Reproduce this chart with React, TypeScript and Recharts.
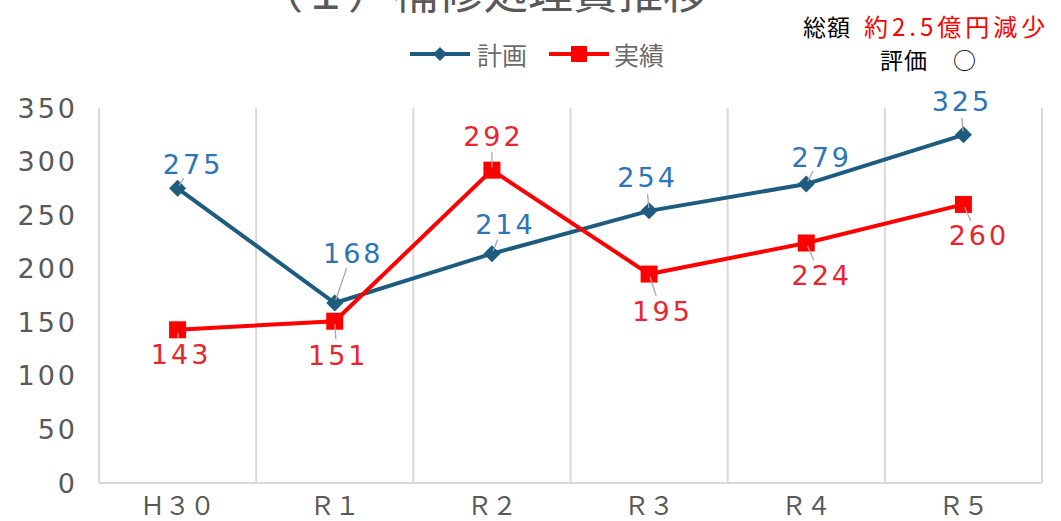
import React from 'react';
import { LineChart, Line, XAxis, YAxis, CartesianGrid, LabelList } from 'recharts';

const categories = ['Ｈ３０', 'Ｒ１', 'Ｒ２', 'Ｒ３', 'Ｒ４', 'Ｒ５'];
const planValues = [275, 168, 214, 254, 279, 325];
const actualValues = [143, 151, 292, 195, 224, 260];
const yTicks = [0, 50, 100, 150, 200, 250, 300, 350];
const seriesNames = { plan: '計画', actual: '実績' };
const titleText = '（１）補修処理費推移';

// label placement (style only): offsets of label centre from its point
const planLabelOffsets = [[14, -24], [17, -50], [12, -29], [-3, -33], [14, -27], [-3, -33]];
const actualLabelOffsets = [[2, 25], [2, 34], [0, -34], [12, 37], [14, 32], [14, 31]];

const PLAN_COLOR = '#1d5c7e';
const PLAN_LABEL = '#2e75b6';
const ACTUAL_COLOR = '#ff0000';
const ACTUAL_LABEL = '#e8262e';
const GRID = '#d9d9d9';
const TEXT_GREY = '#595959';
const NUM_FONT = '"DejaVu Sans", sans-serif';
const JP_FONT = '"Noto Sans CJK JP", sans-serif';

const data = categories.map((c, i) => ({
  name: c,
  x: i + 0.5,
  plan: planValues[i],
  actual: actualValues[i],
}));
const centerTicks = categories.map((_, i) => i + 0.5);
const boundaryTicks = [...categories.map((_, i) => i), categories.length];

const Diamond = (props: any) => {
  const { cx, cy } = props;
  if (cx == null || cy == null) return null;
  const r = 8.5;
  return (
    <polygon
      points={`${cx},${cy - r} ${cx + r},${cy} ${cx},${cy + r} ${cx - r},${cy}`}
      fill={PLAN_COLOR}
    />
  );
};

const Square = (props: any) => {
  const { cx, cy } = props;
  if (cx == null || cy == null) return null;
  const s = 17;
  return <rect x={cx - s / 2} y={cy - s / 2} width={s} height={s} fill={ACTUAL_COLOR} />;
};

const makeLabel = (color: string, offsets: number[][]) => (props: any) => {
  const { x, y, value, index } = props;
  const [dx, dy] = offsets[index] || [0, -25];
  const lx = x + dx;
  const ly = y + dy;
  const d = Math.sqrt(dx * dx + dy * dy);
  const len = d - 16;
  let leader = null;
  if (len > 2) {
    const ux = dx / d;
    const uy = dy / d;
    leader = (
      <line
        x1={x + ux * 3}
        y1={y + uy * 3}
        x2={x + ux * len}
        y2={y + uy * len}
        stroke="#a6a6a6"
        strokeWidth={1.3}
      />
    );
  }
  return (
    <g>
      {leader}
      <text
        x={lx + 1.5}
        y={ly}
        textAnchor="middle"
        dominantBaseline="central"
        fill={color}
        fontSize={27}
        letterSpacing={3}
        fontFamily={NUM_FONT}
      >
        {value}
      </text>
    </g>
  );
};

const LegendBlock = () => (
  <div
    style={{
      position: 'absolute',
      top: 40,
      left: 410,
      height: 28,
      display: 'flex',
      alignItems: 'center',
      fontFamily: JP_FONT,
      fontSize: 25,
      lineHeight: '28px',
      color: '#6b6b6b',
      whiteSpace: 'nowrap',
    }}
  >
    <svg width={60} height={20}>
      <line x1={0} y1={10} x2={60} y2={10} stroke={PLAN_COLOR} strokeWidth={4} />
      <polygon points="30,3 37,10 30,17 23,10" fill={PLAN_COLOR} />
    </svg>
    <span style={{ marginLeft: 7, marginRight: 22 }}>{seriesNames.plan}</span>
    <svg width={60} height={20}>
      <line x1={0} y1={10} x2={60} y2={10} stroke={ACTUAL_COLOR} strokeWidth={4} />
      <rect x={22} y={2} width={16} height={16} fill={ACTUAL_COLOR} />
    </svg>
    <span style={{ marginLeft: 5 }}>{seriesNames.actual}</span>
  </div>
);

export default function App() {
  return (
    <div
      style={{
        position: 'fixed',
        left: 0,
        top: 0,
        width: 1061,
        height: 521,
        overflow: 'hidden',
        background: '#ffffff',
      }}
    >
      <div
        style={{
          position: 'absolute',
          top: -33,
          left: 258,
          fontFamily: JP_FONT,
          fontSize: 45,
          lineHeight: '45px',
          color: TEXT_GREY,
          whiteSpace: 'nowrap',
        }}
      >
        {titleText}
      </div>
      <LineChart
        width={1061}
        height={521}
        data={data}
        margin={{ top: 108, right: 19, bottom: 0, left: 9 }}
      >
        <XAxis
          xAxisId="grid"
          type="number"
          dataKey="x"
          domain={[0, categories.length]}
          ticks={boundaryTicks}
          hide
        />
        <CartesianGrid xAxisId="grid" horizontal={false} vertical stroke={GRID} strokeWidth={2} />
        <XAxis
          type="number"
          dataKey="x"
          domain={[0, categories.length]}
          ticks={centerTicks}
          tickFormatter={(v: number) => categories[Math.floor(v)]}
          height={38}
          axisLine={{ stroke: GRID, strokeWidth: 2 }}
          tickLine={false}
          tickMargin={8}
          tick={{ fill: TEXT_GREY, fontSize: 25, fontFamily: JP_FONT }}
          interval={0}
        />
        <YAxis
          domain={[0, 350]}
          ticks={yTicks}
          width={90}
          axisLine={false}
          tickLine={false}
          tickMargin={15}
          tick={{ fill: TEXT_GREY, fontSize: 27, fontFamily: NUM_FONT, letterSpacing: 3 }}
        />
        <Line
          dataKey="plan"
          name={seriesNames.plan}
          stroke={PLAN_COLOR}
          strokeWidth={4}
          dot={Diamond}
          activeDot={false}
          isAnimationActive={false}
        >
          <LabelList dataKey="plan" content={makeLabel(PLAN_LABEL, planLabelOffsets)} />
        </Line>
        <Line
          dataKey="actual"
          name={seriesNames.actual}
          stroke={ACTUAL_COLOR}
          strokeWidth={4}
          dot={Square}
          activeDot={false}
          isAnimationActive={false}
        >
          <LabelList dataKey="actual" content={makeLabel(ACTUAL_LABEL, actualLabelOffsets)} />
        </Line>
      </LineChart>
      <LegendBlock />
      <div
        style={{
          position: 'absolute',
          left: 803,
          top: 13,
          fontFamily: JP_FONT,
          fontSize: 23,
          lineHeight: '26px',
          color: '#000',
          whiteSpace: 'nowrap',
        }}
      >
        <span style={{ letterSpacing: 1 }}>総額</span>
        <span style={{ color: '#ff0000', fontSize: 24, letterSpacing: 4, marginLeft: 13 }}>約2.5億円減少</span>
      </div>
      <div
        style={{
          position: 'absolute',
          left: 880,
          top: 46,
          fontFamily: JP_FONT,
          fontSize: 23,
          lineHeight: '26px',
          color: '#000',
          whiteSpace: 'nowrap',
        }}
      >
        <span style={{ letterSpacing: 1 }}>評価</span>
        <span style={{ marginLeft: 25 }}>○</span>
      </div>
    </div>
  );
}
